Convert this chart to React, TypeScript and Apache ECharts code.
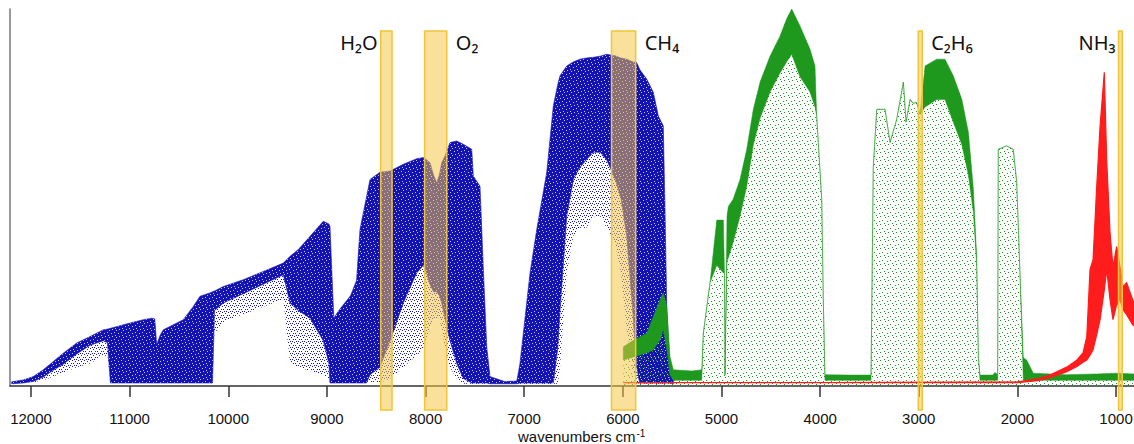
import React, { useEffect, useRef } from 'react';
import * as echarts from 'echarts';

// Axis ticks (wavenumbers, cm-1)
const tickValues = [12000, 11000, 10000, 9000, 8000, 7000, 6000, 5000, 4000, 3000, 2000, 1000];

// Blue spectrum: wavenumber, top of the dense band, bottom of the dense band, lowest scattered points
const blueWn = [12196, 12078, 11977, 11875, 11774, 11673, 11537, 11402, 11267, 11225, 11195, 11098, 10996, 10861, 10776, 10745, 10726, 10690, 10659, 10591, 10456, 10355, 10287, 10187, 10160, 10140, 10050, 9848, 9645, 9442, 9374, 9290, 9171, 9037, 8980, 8969, 8951, 8930, 8880, 8820, 8760, 8700, 8665, 8600, 8563, 8462, 8360, 8226, 8090, 8023, 7990, 7955, 7920, 7887, 7860, 7836, 7803, 7752, 7684, 7617, 7532, 7516, 7448, 7414, 7380, 7347, 7200, 7075, 7043, 6975, 6941, 6873, 6772, 6705, 6660, 6637, 6569, 6500, 6434, 6370, 6299, 6230, 6164, 6079, 6020, 5961, 5900, 5859, 5830, 5758, 5691, 5640, 5590, 5573, 5555, 5522, 5488];
const blueTop = [1.1, 1.6, 2.5, 4.3, 6.5, 8.7, 11.4, 13.1, 14.9, 15.1, 15.3, 16.0, 16.7, 17.6, 18.0, 17.8, 11.0, 13.5, 14.9, 15.8, 17.6, 21.1, 23.8, 24.7, 25.0, 25.2, 26.4, 28.2, 30.4, 32.6, 34.4, 36.2, 39.7, 43.7, 43.0, 42.4, 30.9, 18.0, 20.0, 22.0, 24.0, 28.0, 41.5, 50.0, 54.8, 56.7, 57.0, 58.8, 60.3, 60.6, 60.0, 59.2, 56.0, 53.9, 56.0, 59.2, 61.0, 64.6, 65.0, 64.1, 62.8, 55.7, 53.0, 30.9, 10.5, 2.5, 1.2, 1.3, 6.0, 22.0, 30.0, 41.5, 56.6, 74.3, 80.0, 82.3, 84.9, 86.0, 86.7, 87.0, 87.2, 87.5, 88.0, 87.6, 87.0, 86.7, 86.0, 85.8, 84.0, 81.4, 77.9, 71.6, 69.0, 47.7, 21.1, 3.4, 1.6];
const blueBottom = [0.6, 0.8, 1.2, 2.4, 4.2, 5.8, 8.5, 10.8, 12.0, 11.5, 0.8, 0.8, 0.8, 0.8, 0.8, 0.8, 0.8, 0.8, 0.8, 0.8, 0.8, 0.8, 0.8, 0.8, 0.8, 20.0, 22.0, 24.5, 27.0, 29.5, 22.0, 20.0, 18.0, 12.0, 6.0, 0.8, 0.8, 0.8, 0.8, 0.8, 0.8, 0.8, 0.8, 0.8, 3.0, 5.0, 12.0, 22.0, 30.0, 32.0, 30.0, 27.0, 25.0, 25.0, 24.0, 22.0, 18.0, 12.0, 6.0, 2.0, 0.8, 0.8, 0.8, 0.8, 0.8, 0.6, 0.6, 0.6, 0.8, 0.8, 0.8, 0.8, 0.8, 0.8, 10.0, 20.0, 45.0, 55.0, 58.0, 60.0, 62.0, 62.0, 60.0, 55.0, 50.0, 40.0, 20.0, 5.0, 0.8, 0.8, 0.8, 0.8, 0.8, 0.8, 0.8, 0.8, 0.6];
const blueSparse = [0.6, 0.8, 1.0, 1.5, 2.5, 3.5, 5.0, 6.0, 8.0, 8.0, 0.8, 0.8, 0.8, 0.8, 0.8, 0.8, 0.8, 0.8, 0.8, 0.8, 0.8, 0.8, 0.8, 0.8, 0.8, 14.0, 17.0, 19.0, 21.0, 23.0, 6.0, 5.0, 4.0, 3.0, 2.0, 0.8, 0.8, 0.8, 0.8, 0.8, 0.8, 0.8, 0.8, 0.8, 0.8, 0.8, 2.0, 5.0, 8.0, 10.0, 12.0, 15.0, 18.0, 18.0, 18.0, 15.0, 10.0, 5.0, 2.0, 0.6, 0.6, 0.6, 0.6, 0.6, 0.6, 0.6, 0.6, 0.6, 0.6, 0.6, 0.6, 0.6, 0.6, 0.6, 0.6, 5.0, 30.0, 40.0, 42.0, 42.0, 45.0, 45.0, 42.0, 38.0, 30.0, 15.0, 5.0, 0.8, 0.6, 0.6, 0.6, 0.6, 0.6, 0.6, 0.6, 0.6, 0.6];

// Green spectrum: wavenumber, top of the scattered points, lower edge of the dense strip
const greenWn = [5995, 5887, 5758, 5691, 5623, 5590, 5555, 5522, 5488, 5300, 5200, 5184, 5116, 5048, 4981, 4970, 4964, 4944, 4931, 4883, 4812, 4744, 4677, 4609, 4508, 4407, 4339, 4288, 4204, 4103, 4052, 4035, 3984, 3968, 3951, 3700, 3494, 3484, 3461, 3426, 3342, 3291, 3223, 3156, 3129, 3088, 3058, 3021, 2987, 2936, 2818, 2734, 2650, 2563, 2497, 2446, 2413, 2396, 2379, 2250, 2227, 2200, 2194, 2110, 2042, 2007, 1974, 1940, 1906, 1839, 1500, 1200, 1000, 818];
const greenTop = [10.4, 12.2, 14.0, 18.4, 22.9, 24.7, 21.1, 7.8, 4.3, 4.0, 4.3, 14.0, 27.4, 44.0, 44.0, 30.0, 3.0, 45.0, 47.6, 49.5, 54.8, 62.8, 73.4, 80.6, 87.5, 92.8, 97.4, 100.0, 95.5, 89.4, 84.9, 71.6, 49.5, 22.9, 3.0, 2.9, 2.9, 2.9, 58.0, 73.4, 73.4, 64.6, 70.8, 80.6, 70.0, 76.0, 75.0, 75.2, 72.0, 84.9, 86.7, 86.7, 82.3, 76.0, 67.3, 52.1, 34.4, 7.8, 2.9, 2.9, 3.6, 3.0, 62.8, 63.7, 62.8, 54.0, 30.0, 7.5, 6.9, 3.4, 3.0, 3.2, 3.4, 3.2];
const greenCore = [6.9, 7.7, 8.8, 9.6, 12.2, 15.0, 10.0, 3.0, 1.5, 1.5, 1.5, 14.0, 27.4, 32.0, 30.0, 30.0, 3.0, 33.0, 34.0, 38.0, 45.0, 53.0, 64.0, 71.0, 78.0, 83.0, 86.0, 88.0, 82.0, 78.0, 74.0, 71.6, 49.5, 22.9, 1.5, 1.5, 1.5, 1.5, 58.0, 73.4, 73.4, 64.6, 70.8, 80.6, 70.0, 76.0, 75.0, 75.2, 72.0, 74.0, 76.0, 76.0, 70.0, 64.0, 56.0, 46.0, 32.0, 7.8, 1.5, 1.5, 1.5, 1.5, 62.8, 63.7, 62.8, 54.0, 30.0, 1.5, 1.5, 1.5, 1.5, 1.5, 1.5, 1.5];

// Red spectrum: wavenumber, upper and lower envelope
const redWn = [5995, 4000, 2000, 1795, 1670, 1500, 1396, 1335, 1297, 1280, 1264, 1233, 1196, 1162, 1119, 1095, 1061, 1031, 994, 960, 929, 893, 831, 818];
const redTop = [0.9, 0.9, 1.1, 1.9, 2.9, 5.0, 6.9, 8.8, 13.0, 22.0, 30.9, 33.5, 52.9, 68.9, 83.2, 60.0, 40.7, 31.6, 37.0, 31.6, 26.3, 27.4, 22.9, 22.0];
const redBottom = [0.9, 0.9, 0.9, 1.4, 2.2, 3.8, 5.2, 6.3, 6.9, 7.5, 8.2, 9.6, 13.6, 17.6, 25.5, 30.9, 22.9, 17.6, 21.5, 22.9, 20.2, 18.9, 16.2, 16.0];

// Absorption windows of the gases
const gasNames = ['H₂O', 'O₂', 'CH₄', 'C₂H₆', 'NH₃'];
const gasStart = [8455, 8010, 6115, 3005, 975];
const gasEnd = [8340, 7785, 5870, 2965, 937];
const gasLabelSide = ['left', 'right', 'right', 'right', 'left'];

// Small repeating tile of single-pixel dots, used as a fill texture
const makePattern = (size: number, bg: string | null, dotColor: string, dots: number[][]) => {
  const c = document.createElement('canvas');
  c.width = size;
  c.height = size;
  const ctx = c.getContext('2d');
  if (ctx) {
    if (bg) {
      ctx.fillStyle = bg;
      ctx.fillRect(0, 0, size, size);
    }
    ctx.fillStyle = dotColor;
    dots.forEach(([x, y]) => ctx.fillRect(x, y, 1, 1));
  }
  return { image: c.toDataURL(), imageWidth: size, imageHeight: size, repeat: 'repeat' };
};

const bandSeries = (name: string, wn: number[], lo: number[], hi: number[], style: any, z: number) => ({
  type: 'custom',
  name,
  z,
  silent: true,
  coordinateSystem: 'cartesian2d',
  data: wn.map((w, i) => [w, lo[i], hi[i]]),
  encode: { x: 0, y: [1, 2] },
  renderItem: (params: any, api: any) => {
    if (params.dataIndex !== 0) return null;
    const upper = wn.map((w, i) => api.coord([w, hi[i]]));
    const lower = wn.map((w, i) => api.coord([w, lo[i]])).reverse();
    return { type: 'polygon', shape: { points: upper.concat(lower) }, style };
  },
});

export default function App() {
  const ref = useRef<HTMLDivElement>(null);

  useEffect(() => {
    if (!ref.current) return;
    const chart = echarts.init(ref.current, undefined, { renderer: 'svg' });
    const greenDots = makePattern(8, null, '#1c981c', [[0, 0], [5, 1], [2, 4], [7, 5], [4, 7]]);
    const blueDots = makePattern(6, null, '#1414b8', [[0, 0], [3, 1], [5, 3], [1, 3], [4, 5], [2, 5]]);
    const blueDense = makePattern(7, '#1212b6', '#c8c8ee', [[0, 0], [4, 1], [2, 3], [6, 4], [3, 6]]);
    const zeros = greenWn.map(() => 0);

    chart.setOption({
      animation: false,
      grid: { left: 10, right: 0, top: 9, bottom: 58, containLabel: false, outerBoundsMode: 'none' },
      xAxis: {
        type: 'value',
        inverse: true,
        min: 818,
        max: 12213,
        splitLine: { show: false },
        axisLine: { onZero: false, lineStyle: { color: '#333', width: 1.5 } },
        axisTick: { customValues: tickValues, length: 11, lineStyle: { color: '#333', width: 1.5 } },
        axisLabel: {
          customValues: tickValues,
          formatter: (v: number) => String(v),
          fontSize: 15,
          fontFamily: '"Liberation Sans", Arial, sans-serif',
          color: '#111',
          margin: 25,
        },
      },
      yAxis: {
        type: 'value',
        min: 0,
        max: 100,
        splitLine: { show: false },
        axisLine: { show: true, onZero: false, lineStyle: { color: '#777', width: 1.5 } },
        axisTick: { show: false },
        axisLabel: { show: false },
      },
      graphic: [
        {
          type: 'text',
          left: 518,
          top: 428,
          style: {
            text: '{n|wavenumbers cm}{s|-1}',
            rich: {
              n: { fontSize: 15, fontFamily: '"Liberation Sans", Arial, sans-serif', fill: '#111', lineHeight: 16, verticalAlign: 'bottom' },
              s: { fontSize: 10, fontFamily: '"Liberation Sans", Arial, sans-serif', fill: '#111', lineHeight: 16, verticalAlign: 'top', padding: [0, 0, 0, 1] },
            },
          },
        },
      ],
      series: [
        bandSeries('blue scatter', blueWn, blueSparse, blueBottom, { fill: blueDots }, 1),
        bandSeries('blue', blueWn, blueBottom, blueTop, { fill: blueDense, stroke: '#1212b6', lineWidth: 0.6 }, 2),
        bandSeries('green scatter', greenWn, zeros, greenTop, { fill: greenDots }, 3),
        bandSeries('green', greenWn, greenCore, greenTop, { fill: '#1e991e', stroke: '#1e991e', lineWidth: 0.5 }, 4),
        bandSeries('red', redWn, redBottom, redTop, { fill: '#ff1c1c', stroke: '#ff1c1c', lineWidth: 1.2 }, 5),
        {
          type: 'custom',
          name: 'gases',
          z: 6,
          silent: true,
          clip: false,
          coordinateSystem: 'cartesian2d',
          data: gasStart.map((s, i) => [s, gasEnd[i]]),
          encode: { x: [0, 1] },
          renderItem: (params: any, api: any) => {
            const i = params.dataIndex;
            const xa = api.coord([api.value(0), 0])[0];
            const xb = api.coord([api.value(1), 0])[0];
            const left = Math.min(xa, xb);
            const w = Math.abs(xb - xa);
            const onLeft = gasLabelSide[i] === 'left';
            return {
              type: 'group',
              children: [
                {
                  type: 'rect',
                  shape: { x: left, y: 31, width: w, height: 379 },
                  style: { fill: 'rgba(243, 196, 64, 0.52)', stroke: '#f2c43a', lineWidth: 1.5 },
                },
                {
                  type: 'text',
                  x: onLeft ? left - 3 : left + w + 9,
                  y: 42,
                  style: {
                    text: gasNames[i],
                    fontSize: 20,
                    fontFamily: '"Noto Sans", "Open Sans", sans-serif',
                    fill: '#111',
                    align: onLeft ? 'right' : 'left',
                    verticalAlign: 'middle',
                  },
                },
              ],
            };
          },
        },
      ],
    });

    return () => chart.dispose();
  }, []);

  return (
    <div
      ref={ref}
      style={{ position: 'fixed', left: 0, top: 0, width: 1134, height: 444, background: '#fff' }}
    />
  );
}
